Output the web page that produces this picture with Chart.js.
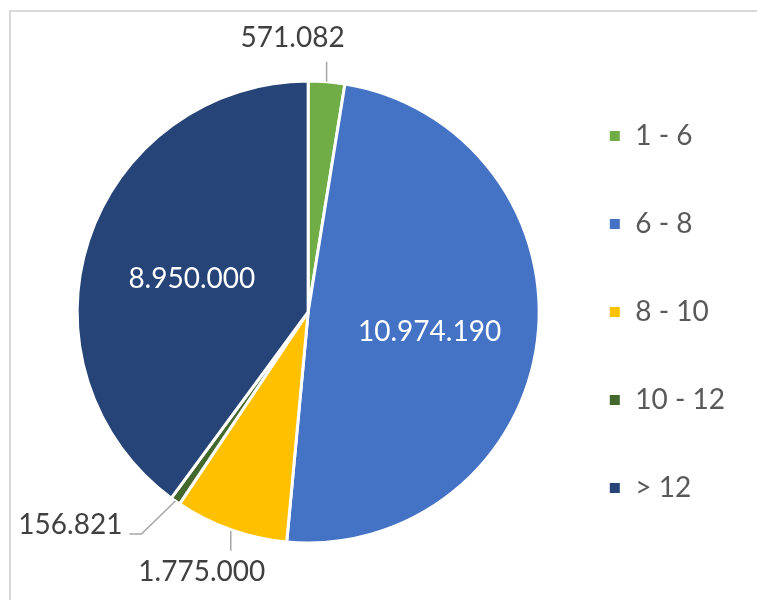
<!DOCTYPE html>
<html>
<head>
<meta charset="utf-8">
<script src="https://cdn.jsdelivr.net/npm/chart.js@4"></script>
<style>
  html, body { margin: 0; padding: 0; background: #fff; overflow: hidden; }
  #frame { position: absolute; left: 9px; top: 10px; width: 800px; height: 700px; border: 2px solid #D9D9D9; box-sizing: border-box; }
  #wrap { position: absolute; left: 0; top: 0; width: 757px; height: 600px; }
</style>
</head>
<body>
<div id="frame"></div>
<div id="wrap"><canvas id="c" width="757" height="600"></canvas></div>
<script>
const categories = ['1 - 6', '6 - 8', '8 - 10', '10 - 12', '> 12'];
const values = [571082, 10974190, 1775000, 156821, 8950000];
const valueLabels = ['571.082', '10.974.190', '1.775.000', '156.821', '8.950.000'];
const colors = ['#70AD47', '#4472C4', '#FFC000', '#43682B', '#264478'];

const FONT = 'Lato, "Open Sans", sans-serif';

const labelPlugin = {
  id: 'sliceLabels',
  afterDatasetsDraw(chart) {
    const ctx = chart.ctx;
    const meta = chart.getDatasetMeta(0);
    const total = values.reduce((a, b) => a + b, 0);
    ctx.save();
    ctx.font = '28px ' + FONT;
    ctx.textBaseline = 'middle';
    meta.data.forEach((arc, i) => {
      const p = arc.getProps(['x', 'y', 'startAngle', 'endAngle', 'outerRadius'], true);
      const mid = (p.startAngle + p.endAngle) / 2;
      const R = p.outerRadius;
      const frac = values[i] / total;
      const txt = valueLabels[i];
      if (frac > 0.2) {
        const r = R * 0.53;
        ctx.fillStyle = '#FFFFFF';
        ctx.textAlign = 'center';
        ctx.fillText(txt, p.x + Math.cos(mid) * r, p.y + Math.sin(mid) * r + 5);
        return;
      }
      const ex = p.x + Math.cos(mid) * R;
      const ey = p.y + Math.sin(mid) * R;
      const c = Math.cos(mid), s = Math.sin(mid);
      ctx.strokeStyle = '#A6A6A6';
      ctx.lineWidth = 1.5;
      ctx.fillStyle = '#404040';
      ctx.beginPath();
      if (s < -0.5) {
        // top: vertical leader up
        ctx.moveTo(ex, ey);
        ctx.lineTo(ex, ey - 20);
        ctx.stroke();
        ctx.textAlign = 'center';
        ctx.fillText(txt, ex - 34, ey - 44);
      } else if (s > 0.5 && c > -0.45) {
        // bottom: vertical leader down
        ctx.moveTo(ex, ey + 1);
        ctx.lineTo(ex, ey + 21);
        ctx.stroke();
        ctx.textAlign = 'center';
        ctx.fillText(txt, ex - 29, ey + 42);
      } else {
        // lower-left: diagonal then horizontal
        ctx.moveTo(ex, ey);
        ctx.lineTo(ex - 34, ey + 33);
        ctx.lineTo(ex - 46, ey + 33);
        ctx.stroke();
        ctx.textAlign = 'right';
        ctx.fillText(txt, ex - 53, ey + 24);
      }
    });
    ctx.restore();
  }
};

new Chart(document.getElementById('c'), {
  type: 'pie',
  data: {
    labels: categories,
    datasets: [{
      data: values,
      backgroundColor: colors,
      borderColor: '#FFFFFF',
      borderWidth: 3,
      radius: 231
    }]
  },
  options: {
    responsive: false,
    animation: false,
    devicePixelRatio: 1,
    layout: { padding: { left: 68, right: 22, top: 24, bottom: 0 } },
    plugins: {
      tooltip: { enabled: false },
      legend: {
        position: 'right',
        align: 'center',
        labels: {
          boxWidth: 13,
          boxHeight: 13,
          padding: 60,
          color: '#595959',
          font: { family: FONT, size: 28 }
        }
      }
    }
  },
  plugins: [labelPlugin]
});
</script>
</body>
</html>
